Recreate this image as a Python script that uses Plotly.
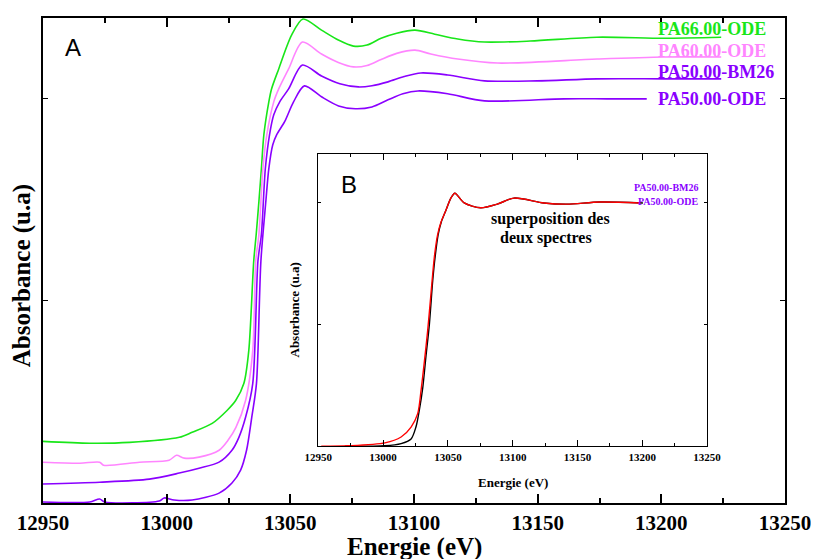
import plotly.graph_objects as go

# ── Données (énergie en eV, absorbance en u.a.) ────────────────────────────
E_PA66_ODE = [12950, 12968.9, 12985, 13005.1, 13010.3, 13018.4, 13024.4, 13027.9, 13031.2,
              13033.2, 13035.2, 13036.2, 13037.3, 13038.3, 13039.3, 13041.3, 13042.4, 13045.3,
              13050.5, 13055.1, 13062.6, 13069.4, 13075.5, 13081.0, 13086.7, 13093.0, 13100.4,
              13108.4, 13117.7, 13128.5, 13147.0, 13173.9, 13200.9, 13224.2]
A_PA66_ODE = [0.305, 0.296, 0.300, 0.325, 0.350, 0.394, 0.458, 0.507, 0.591,
              0.754, 1.197, 1.330, 1.493, 1.655, 1.823, 1.985, 2.049, 2.148,
              2.315, 2.395, 2.340, 2.291, 2.261, 2.266, 2.300, 2.325, 2.340,
              2.320, 2.296, 2.281, 2.286, 2.305, 2.300, 2.305]

E_PA60_ODE = [12950, 12964.9, 12972.9, 12974.5, 12989, 13001, 13004, 13007.1, 13013.1,
              13021.2, 13024.8, 13028.0, 13031.9, 13034.8, 13036.0, 13037.3, 13038.9, 13040.5,
              13043.3, 13045.3, 13049.3, 13054.9, 13062.6, 13069.4, 13075.5, 13081.0, 13086.7,
              13093.0, 13100.4, 13106.8, 13117.7, 13133.8, 13174.0, 13200.9, 13224.2]
A_PA60_ODE = [0.202, 0.197, 0.202, 0.187, 0.202, 0.212, 0.236, 0.222, 0.227,
              0.261, 0.310, 0.374, 0.507, 0.754, 1.197, 1.330, 1.655, 1.823,
              1.985, 2.049, 2.148, 2.281, 2.222, 2.180, 2.158, 2.165, 2.195,
              2.225, 2.241, 2.222, 2.197, 2.177, 2.197, 2.207, 2.207]

E_PA50_BM26 = [12950, 12972.9, 12993.0, 13005.1, 13013.1, 13021.2, 13026.4, 13029.2, 13031.9,
               13034.8, 13036.9, 13038.3, 13039.9, 13041.6, 13043.3, 13045.7, 13049.3, 13054.9,
               13062.6, 13070.0, 13077.5, 13083.0, 13089.5, 13096.0, 13102.8, 13113.6, 13128.5,
               13149.8, 13174.0, 13200.9, 13224.2]
A_PA50_BM26 = [0.094, 0.103, 0.118, 0.148, 0.172, 0.202, 0.261, 0.325, 0.424,
               0.591, 1.197, 1.330, 1.655, 1.823, 1.921, 1.985, 2.049, 2.167,
               2.113, 2.075, 2.059, 2.065, 2.084, 2.110, 2.128, 2.118, 2.089,
               2.089, 2.099, 2.099, 2.099]

E_PA50_ODE = [12950, 12968.9, 12972.9, 12975, 12997, 12999, 13003, 13010.3, 13021.2,
              13026.4, 13029.9, 13032.3, 13034.4, 13036.3, 13038.1, 13040.1, 13041.3, 13042.9,
              13044.5, 13047.7, 13051.3, 13055.7, 13062.6, 13069.5, 13076.3, 13083.0, 13089.5,
              13095.5, 13101.6, 13113.6, 13128.5, 13160.7, 13178.0, 13194.1]
A_PA50_ODE = [0.005, 0.005, 0.020, 0.005, 0.010, 0.025, 0.015, 0.015, 0.049,
              0.099, 0.163, 0.261, 0.424, 0.591, 1.197, 1.493, 1.655, 1.773,
              1.823, 1.887, 1.985, 2.064, 2.010, 1.965, 1.951, 1.960, 1.995,
              2.025, 2.039, 2.025, 1.990, 2.000, 2.000, 2.000]

# Encart B : superposition des deux spectres normalisés
E_B_ODE = [12952.3, 12973, 13001.4, 13013.9, 13021.6, 13026.7, 13029.3, 13031.9, 13034.4,
           13037.0, 13039.6, 13042.1, 13044.6, 13048.5, 13052.3, 13055.4, 13062.6, 13075.3,
           13088.1, 13101.0, 13124.0, 13141.9, 13167.4, 13198.1]
A_B_ODE = [0.0, 0.002, 0.014, 0.038, 0.079, 0.134, 0.23, 0.35, 0.475,
           0.63, 0.78, 0.87, 0.92, 0.97, 1.02, 1.04, 1.00, 0.98,
           0.995, 1.02, 1.00, 0.995, 1.004, 1.0]

E_B_BM26 = [12970.7, 13001.2, 13013.9, 13021.6, 13025.4, 13028.0, 13030.6, 13033.1, 13035.7,
            13038.3, 13040.2, 13042.5, 13044.8, 13048.5, 13052.3, 13055.4, 13062.6, 13075.3,
            13088.1, 13101.0, 13124.0, 13141.9, 13167.4, 13200.5]
A_B_BM26 = [0.0, 0.002, 0.011, 0.03, 0.08, 0.15, 0.24, 0.37, 0.50,
            0.68, 0.78, 0.87, 0.92, 0.97, 1.02, 1.04, 1.00, 0.98,
            0.995, 1.02, 1.00, 0.995, 1.004, 1.0]

X_TICKS = [12950, 13000, 13050, 13100, 13150, 13200, 13250]

VERT = "#19e619"
ROSE = "#ff85ff"
VIOLET = "#8a00ff"
SERIF = "Liberation Serif, Times New Roman, serif"

fig = go.Figure()

for e, a, col in [(E_PA66_ODE, A_PA66_ODE, VERT), (E_PA60_ODE, A_PA60_ODE, ROSE),
                  (E_PA50_BM26, A_PA50_BM26, VIOLET), (E_PA50_ODE, A_PA50_ODE, VIOLET)]:
    fig.add_trace(go.Scatter(x=e, y=a, mode="lines", xaxis="x", yaxis="y",
                             line=dict(color=col, width=1.6, shape="spline", smoothing=0.8),
                             showlegend=False, hoverinfo="skip"))

fig.add_trace(go.Scatter(x=E_B_BM26, y=A_B_BM26, mode="lines", xaxis="x2", yaxis="y2",
                         line=dict(color="black", width=1.4, shape="spline", smoothing=0.8),
                         showlegend=False))
fig.add_trace(go.Scatter(x=E_B_ODE, y=A_B_ODE, mode="lines", xaxis="x2", yaxis="y2",
                         line=dict(color="red", width=1.4, shape="spline", smoothing=0.8),
                         showlegend=False))

axe_commun = dict(showline=True, linecolor="black", mirror="ticks", ticks="inside",
                  showgrid=False, zeroline=False, tickcolor="black")

# la page ajoute 8 px de marge en haut et à gauche : la figure est réduite d'autant
fig.update_layout(
    width=811, height=551,
    paper_bgcolor="white", plot_bgcolor="white",
    margin=dict(l=35, r=30, t=8, b=56),
    font=dict(family=SERIF, color="black"),
    xaxis=dict(**axe_commun, range=[12950, 13250], tickvals=X_TICKS, tickformat="d",
               linewidth=2, ticklen=9, tickwidth=1.5,
               minor=dict(dtick=25, tick0=12950, ticks="inside", ticklen=5, tickcolor="black"),
               tickfont=dict(size=21, family=SERIF, weight="bold"), domain=[0, 1]),
    yaxis=dict(**axe_commun, range=[0, 2.4], dtick=1, linewidth=2, ticklen=5,
               showticklabels=False, domain=[0, 1]),
    xaxis2=dict(**axe_commun, range=[12950, 13250], tickvals=X_TICKS, tickformat="d",
                linewidth=1.2, ticklen=6, anchor="y2",
                minor=dict(dtick=25, tick0=12950, ticks="inside", ticklen=3, tickcolor="black"),
                tickfont=dict(size=11, family=SERIF, weight="bold"), domain=[0.371, 0.895]),
    yaxis2=dict(**axe_commun, range=[0, 1.2], dtick=0.5, linewidth=1.2, ticklen=3,
                showticklabels=False, anchor="x2", domain=[0.117, 0.719]),
)

notes = [
    dict(text="Energie (eV)", x=0.5, y=-0.09, size=25, color="black", xanchor="center"),
    dict(text="Absorbance (u.a)", x=-0.028, y=0.468, size=25, color="black", xanchor="center", angle=-90),
    dict(text="Energie (eV)", x=0.633, y=0.043, size=13, color="black", xanchor="center"),
    dict(text="Absorbance (u.a)", x=0.339, y=0.398, size=13, color="black", xanchor="center", angle=-90),
    dict(text="PA66.00-ODE", x=0.826, y=0.977, size=18, color=VERT, xanchor="left"),
    dict(text="PA60.00-ODE", x=0.826, y=0.932, size=18, color=ROSE, xanchor="left"),
    dict(text="PA50.00-BM26", x=0.826, y=0.889, size=18, color=VIOLET, xanchor="left"),
    dict(text="PA50.00-ODE", x=0.826, y=0.834, size=18, color=VIOLET, xanchor="left"),
    dict(text="superposition des", x=0.684, y=0.585, size=16, color="black", xanchor="center"),
    dict(text="deux spectres", x=0.678, y=0.546, size=16, color="black", xanchor="center"),
    dict(text="PA50.00-BM26", x=0.887, y=0.651, size=10, color=VIOLET, xanchor="right"),
    dict(text="PA50.00-ODE", x=0.885, y=0.622, size=10, color=VIOLET, xanchor="right"),
]
for n in notes:
    fig.add_annotation(text=n["text"], x=n["x"], y=n["y"], xref="paper", yref="paper",
                       xanchor=n["xanchor"], yanchor="middle", showarrow=False,
                       textangle=n.get("angle", 0),
                       font=dict(size=n["size"], color=n["color"], family=SERIF, weight="bold"))

for lettre, px_, py_ in [("A", 0.040, 0.940), ("B", 0.412, 0.657)]:
    fig.add_annotation(text=lettre, x=px_, y=py_, xref="paper", yref="paper",
                       xanchor="center", yanchor="middle", showarrow=False,
                       font=dict(size=24, color="black", family="Liberation Sans, Arial, sans-serif"))

fig.write_html("out.html")
